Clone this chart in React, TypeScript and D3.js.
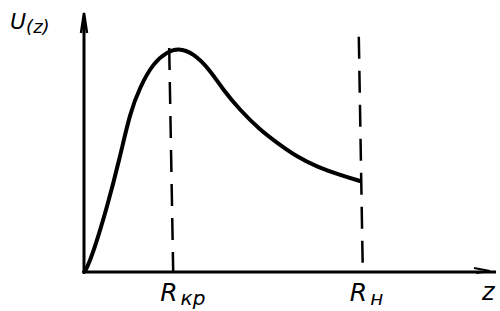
import * as d3 from "d3";
import React from "react";

// potential curve U(r) (arbitrary units)
const curveR = [0, 0.5, 2.3, 5.8, 9, 11.5, 14, 17.3, 20.8, 23.5, 27.3, 31.5, 34.8, 39, 44, 48.3, 53.3, 58.3, 64, 69];
const curveU = [0, 0.8, 7.9, 27.1, 47.9, 66.3, 77.1, 87.1, 91.7, 93.3, 91.3, 84.2, 75.8, 67.5, 59.2, 53.8, 47.9, 43.8, 40.4, 37.9];

// marked radii
const markNames = ["кр", "н"];
const markR = [21.8, 69.2];
const markTop = [93.3, 98];

const width = 500;
const height = 311;
const origin = { x: 84, y: 272 };

const App = () => {
    const x = d3.scaleLinear().domain([0, 100]).range([origin.x, origin.x + 400]);
    const y = d3.scaleLinear().domain([0, 100]).range([origin.y, origin.y - 240]);

    const pts = curveR.map((r, i) => [r, curveU[i]] as [number, number]);
    const line = d3.line<[number, number]>()
        .x(d => x(d[0]))
        .y(d => y(d[1]))
        .curve(d3.curveBasis);

    const xEnd = 496;
    const yEnd = 13;

    return (
        <svg width={width} height={height} style={{ position: "absolute", left: 0, top: 0, background: "#fff" }}>
            {/* axes */}
            <line x1={x(0)} y1={y(0)} x2={xEnd} y2={y(0)} stroke="#000" strokeWidth={3} />
            <line x1={x(0)} y1={y(0)} x2={x(0)} y2={yEnd + 4} stroke="#000" strokeWidth={3} />
            <path d={`M${x(0) - 3},${yEnd + 20} L${x(0)},${yEnd} L${x(0) + 3},${yEnd + 20}`} fill="none" stroke="#000" strokeWidth={2.5} />
            <path d={`M${xEnd - 22},${y(0) - 4} L${xEnd - 6},${y(0) - 1} L${xEnd - 20},${y(0) + 1}`} fill="none" stroke="#000" strokeWidth={1.8} />

            {/* dashed radii */}
            {markR.map((r, i) => (
                <line key={i} x1={x(r) - 2} y1={y(markTop[i])} x2={x(r) + 2} y2={y(0)}
                    stroke="#000" strokeWidth={2.5} strokeDasharray="22,12" />
            ))}

            {/* curve */}
            <path d={line(pts) || ""} fill="none" stroke="#000" strokeWidth={4} strokeLinecap="round" />

            {/* labels */}
            <text x={10} y={29} fontFamily="DejaVu Sans" fontStyle="italic" fontSize={22} fill="#000">
                U<tspan fontSize={18} dy={4}>(z)</tspan>
            </text>
            {markR.map((r, i) => (
                <text key={i} x={x(r) - 11} y={301} fontFamily="DejaVu Sans" fontStyle="italic" fontSize={25} fill="#000">
                    R<tspan fontSize={20} dy={4} dx={3}>{markNames[i]}</tspan>
                </text>
            ))}
            <text x={482} y={300} fontFamily="DejaVu Sans" fontStyle="italic" fontSize={24} fill="#000">z</text>
        </svg>
    );
};

export default App;
